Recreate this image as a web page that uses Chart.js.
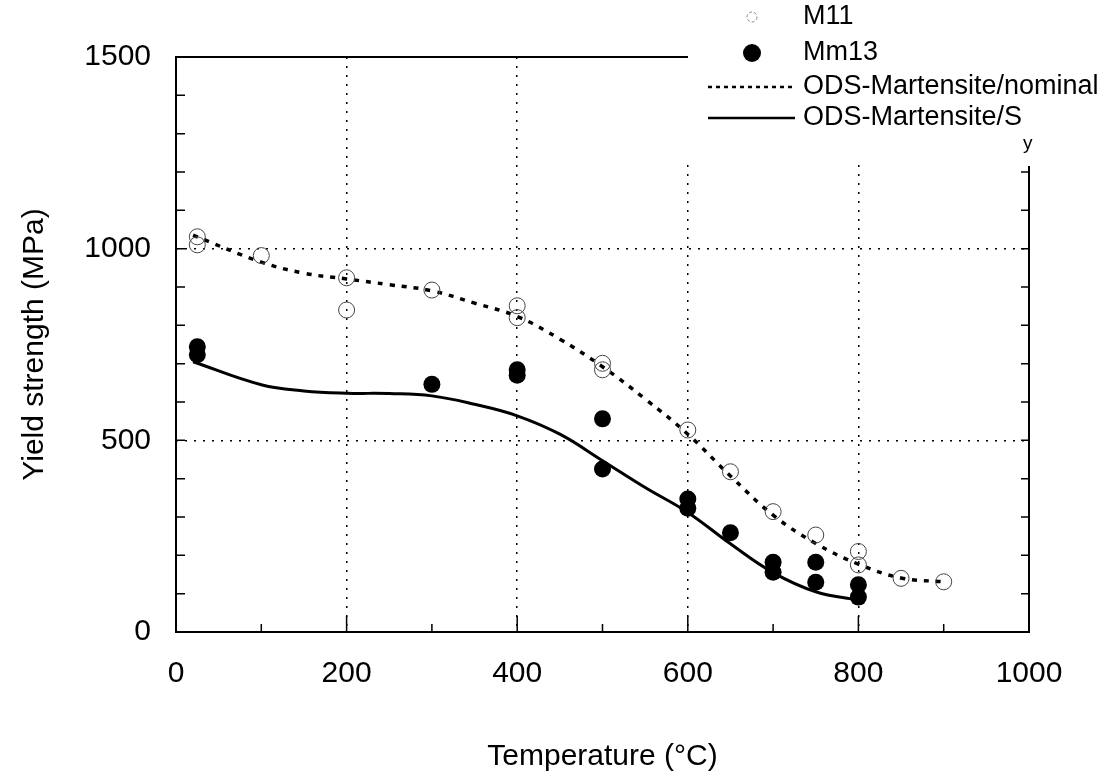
<!DOCTYPE html>
<html>
<head>
<meta charset="utf-8">
<script src="https://cdn.jsdelivr.net/npm/chart.js@4.4.1/dist/chart.umd.min.js"></script>
<style>
  html, body { margin: 0; padding: 0; background: #fff; }
  #wrap { width: 1113px; height: 775px; }
</style>
</head>
<body>
<div id="wrap"><canvas id="chart" width="1113" height="775"></canvas></div>
<script>
// measured points (temperature in C, yield strength in MPa)
const m11Temp = [25, 25, 100, 200, 200, 300, 400, 400, 500, 500, 600, 650, 700, 750, 800, 800, 850, 900];
const m11Ys   = [1031, 1010, 982, 924, 840, 892, 851, 820, 701, 684, 527, 418, 314, 253, 210, 175, 140, 131];

const mm13Temp = [25, 25, 300, 400, 400, 500, 500, 600, 600, 650, 700, 700, 750, 750, 800, 800];
const mm13Ys   = [744, 723, 646, 684, 670, 556, 425, 347, 323, 259, 182, 156, 182, 130, 123, 91];

// fitted curves
const nominalTemp = [20, 100, 150, 200, 250, 300, 350, 400, 450, 500, 550, 600, 650, 700, 750, 800, 850, 900];
const nominalYs   = [1035, 965, 936, 921, 906, 890, 858, 823, 764, 692, 608, 516, 407, 305, 231, 177, 141, 131];

const syTemp = [20, 100, 150, 200, 250, 300, 350, 400, 450, 500, 550, 600, 650, 700, 750, 800];
const syYs   = [705, 645, 629, 623, 622, 616, 594, 564, 516, 447, 377, 312, 230, 155, 105, 83];

const xMajorLabels = [0, 200, 400, 600, 800, 1000];
const yMajorLabels = [0, 500, 1000, 1500];
const xGridValues = [200, 400, 600, 800];
const yGridValues = [500, 1000];

const FONT = "'Liberation Sans', Arial, sans-serif";

function pairs(xs, ys) {
  return xs.map((v, i) => ({ x: v, y: ys[i] }));
}

// legend box, frame, inward ticks
const framePlugin = {
  id: 'frame',
  afterDraw(chart) {
    const { ctx, chartArea: a, scales } = chart;
    const x = scales.x, y = scales.y;
    ctx.save();

    // legend sits over the top-right corner of the frame
    ctx.fillStyle = '#fff';
    ctx.fillRect(684, 0, 429, 165);

    ctx.strokeStyle = '#000';
    ctx.lineWidth = 2;
    ctx.setLineDash([]);
    ctx.beginPath();
    ctx.moveTo(688, a.top);
    ctx.lineTo(a.left, a.top);
    ctx.lineTo(a.left, a.bottom);
    ctx.lineTo(a.right, a.bottom);
    ctx.lineTo(a.right, 166);
    ctx.stroke();

    ctx.lineWidth = 1.5;
    ctx.beginPath();
    for (let v = 100; v < 1000; v += 100) {
      const px = x.getPixelForValue(v);
      const len = v % 200 === 0 ? 16 : 8;
      ctx.moveTo(px, a.bottom);
      ctx.lineTo(px, a.bottom - len);
    }
    for (let v = 100; v < 1500; v += 100) {
      const py = y.getPixelForValue(v);
      ctx.moveTo(a.left, py);
      ctx.lineTo(a.left + 9, py);
      if (py > 166) {
        ctx.moveTo(a.right, py);
        ctx.lineTo(a.right - 8, py);
      }
    }
    ctx.stroke();

    const mx = 752, tx = 803;
    ctx.fillStyle = '#000';
    ctx.font = '27px ' + FONT;
    ctx.textBaseline = 'middle';
    ctx.textAlign = 'left';

    // M11
    ctx.strokeStyle = '#888';
    ctx.lineWidth = 1;
    ctx.setLineDash([3, 2]);
    ctx.beginPath();
    ctx.arc(mx, 17, 5, 0, Math.PI * 2);
    ctx.stroke();
    ctx.setLineDash([]);
    ctx.fillText('M11', tx, 17);

    // Mm13
    ctx.beginPath();
    ctx.arc(mx, 53, 9, 0, Math.PI * 2);
    ctx.fill();
    ctx.fillText('Mm13', tx, 53);

    // nominal
    ctx.strokeStyle = '#000';
    ctx.lineWidth = 2.5;
    ctx.setLineDash([4, 4]);
    ctx.beginPath();
    ctx.moveTo(708, 87);
    ctx.lineTo(795, 87);
    ctx.stroke();
    ctx.setLineDash([]);
    ctx.fillText('ODS-Martensite/nominal', tx, 87);

    // Sy
    ctx.lineWidth = 2.5;
    ctx.beginPath();
    ctx.moveTo(708, 118);
    ctx.lineTo(795, 118);
    ctx.stroke();
    const main = 'ODS-Martensite/S';
    ctx.fillText(main, tx, 118);
    const w = ctx.measureText(main).width;
    ctx.font = '19px ' + FONT;
    ctx.fillText('y', tx + w + 1, 144);
    ctx.restore();
  }
};

new Chart(document.getElementById('chart'), {
  type: 'scatter',
  data: {
    datasets: [
      {
        label: 'M11',
        data: pairs(m11Temp, m11Ys),
        pointStyle: 'circle',
        pointRadius: 8,
        pointBackgroundColor: 'rgba(255,255,255,0)',
        pointBorderColor: '#444',
        pointBorderWidth: 1,
        showLine: false
      },
      {
        label: 'Mm13',
        data: pairs(mm13Temp, mm13Ys),
        pointStyle: 'circle',
        pointRadius: 8.5,
        pointBackgroundColor: '#000',
        pointBorderColor: '#000',
        pointBorderWidth: 0,
        showLine: false
      },
      {
        label: 'ODS-Martensite/nominal',
        data: pairs(nominalTemp, nominalYs),
        showLine: true,
        borderColor: '#000',
        borderWidth: 3.5,
        borderDash: [5, 7],
        pointRadius: 0,
        tension: 0.4
      },
      {
        label: 'ODS-Martensite/Sy',
        data: pairs(syTemp, syYs),
        showLine: true,
        borderColor: '#000',
        borderWidth: 3,
        pointRadius: 0,
        tension: 0.4
      }
    ]
  },
  options: {
    responsive: false,
    animation: false,
    devicePixelRatio: 1,
    layout: { padding: { top: 57, right: 84, left: 0, bottom: 0 } },
    plugins: {
      legend: { display: false },
      tooltip: { enabled: false }
    },
    scales: {
      x: {
        type: 'linear',
        min: 0,
        max: 1000,
        afterFit(scale) { scale.height = 143; },
        afterBuildTicks(scale) {
          scale.ticks = [];
          for (let v = 0; v <= 1000; v += 100) scale.ticks.push({ value: v });
        },
        ticks: {
          padding: 24,
          color: '#000',
          font: { family: FONT, size: 30 },
          maxRotation: 0,
          autoSkip: false,
          callback: v => xMajorLabels.includes(v) ? String(v) : ''
        },
        grid: {
          drawTicks: false,
          lineWidth: 1.5,
          color: c => (c.tick && xGridValues.includes(c.tick.value)) ? '#000' : 'rgba(0,0,0,0)'
        },
        border: { display: false, dash: [2, 7] },
        title: {
          display: true,
          text: 'Temperature (°C)',
          color: '#000',
          font: { family: FONT, size: 30 },
          padding: { top: 0, bottom: 0 }
        }
      },
      y: {
        type: 'linear',
        min: 0,
        max: 1500,
        afterFit(scale) { scale.width = 176; },
        afterBuildTicks(scale) {
          scale.ticks = [];
          for (let v = 0; v <= 1500; v += 100) scale.ticks.push({ value: v });
        },
        ticks: {
          padding: 25,
          color: '#000',
          font: { family: FONT, size: 30 },
          autoSkip: false,
          callback: v => yMajorLabels.includes(v) ? String(v) : ''
        },
        grid: {
          drawTicks: false,
          lineWidth: 1.5,
          color: c => (c.tick && yGridValues.includes(c.tick.value)) ? '#000' : 'rgba(0,0,0,0)'
        },
        border: { display: false, dash: [2, 7] },
        title: {
          display: true,
          text: 'Yield strength (MPa)',
          color: '#000',
          font: { family: FONT, size: 30 },
          padding: { top: 17, bottom: 0 }
        }
      }
    }
  },
  plugins: [framePlugin]
});
</script>
</body>
</html>
